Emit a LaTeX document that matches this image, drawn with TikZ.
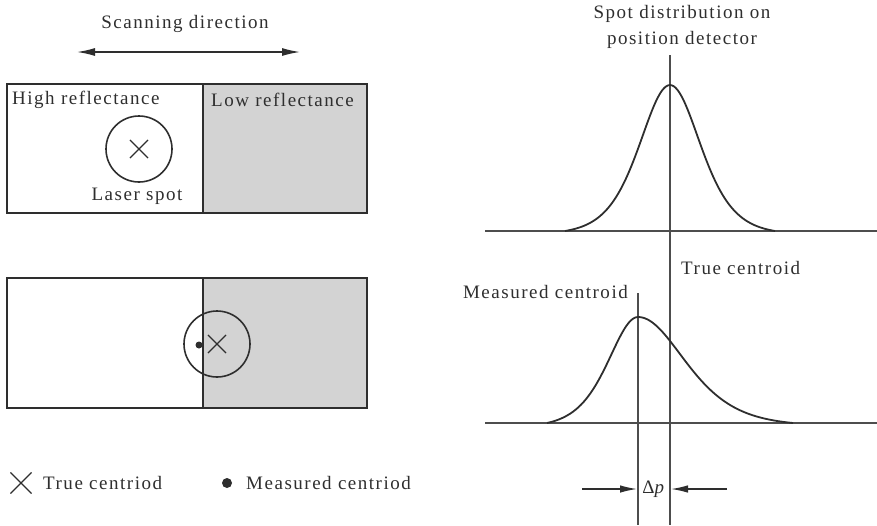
\documentclass[tikz,border=0pt]{standalone}
\usepackage{fontspec}
\setmainfont{Liberation Serif}[LetterSpace=8]
\usetikzlibrary{arrows.meta,shapes.misc}
\definecolor{ink}{HTML}{2E2E2E}
\definecolor{grayfill}{HTML}{D3D3D3}
\begin{document}
\begin{tikzpicture}[x=1pt,y=-1pt,
  declare function={sq(\u)=4/((exp(\u)+exp(-\u))^2);
                    prof(\x,\s,\e)=(sq(\x/\s)-sq(\e/\s))/(1-sq(\e/\s));},
  lbl/.style={font=\fontsize{19}{21}\selectfont, text=ink, inner sep=0pt},
  boxline/.style={draw=ink, line width=1.7pt},
  guide/.style={draw=ink!85, line width=1.3pt},
  curve/.style={draw=ink, line width=1.8pt},
  spot/.style={circle, draw=ink, line width=1.6pt, minimum size=66pt, inner sep=0pt},
  xmark/.style={cross out, draw=ink, line width=1.1pt, minimum size=#1, inner sep=0pt},
  xmark/.default=17pt,
  dotmark/.style={circle, fill=ink, minimum size=#1, inner sep=0pt},
  tip/.style={-{Latex[length=17pt,width=7.5pt]}, draw=ink, line width=1.3pt}
]
\useasboundingbox (0,0) rectangle (877,525);

% ---------- left: scanning direction ----------
\node[lbl] (scan) at (185,24) {Scanning direction};
\coordinate (sL) at (77,52);
\coordinate (sR) at (300,52);
\draw[line width=1.4pt, draw=ink, {Latex[length=18pt,width=8pt]}-{Latex[length=18pt,width=8pt]}] (sL) -- (sR);

% ---------- top box ----------
\fill[grayfill] (203,84) rectangle (367,213);
\draw[boxline] (7,84) rectangle (367,213);
\draw[boxline] (203,84) -- (203,213);
\node[lbl, anchor=west] (high) at (12,100) {High reflectance};
\node[lbl, anchor=west] (low) at (211,100) {Low reflectance};
\node[spot] (spot1) at (139,149) {};
\node[xmark] (x1) at (139,149) {};
\node[lbl] (laser) at (137,196) {Laser spot};

% ---------- bottom box ----------
\fill[grayfill] (203,278) rectangle (367,408);
\draw[boxline] (7,278) rectangle (367,408);
\draw[boxline] (203,278) -- (203,408);
\node[spot] (spot2) at (217,344) {};
\node[xmark] (x2) at (217,344) {};
\node[dotmark=7pt] (d2) at (199,345) {};

% ---------- legend ----------
\node[xmark=20pt] (lx) at (21,483) {};
\node[lbl, anchor=west] (ltrue) at (43,483) {True centriod};
\node[dotmark=10pt] (ld) at (227,483) {};
\node[lbl, anchor=west] (lmeas) at (246,483) {Measured centriod};

% ---------- right: distributions ----------
\node[lbl, align=center, font=\fontsize{19}{26}\selectfont] (title) at (682,27) {Spot distribution on\\position detector};
\coordinate (tTop) at (670,55);
\coordinate (tBot) at (670,525);
\coordinate (mTop) at (638,293);
\coordinate (mBot) at (638,525);
\draw[guide] (tTop) -- (tBot);
\draw[guide] (mTop) -- (mBot);
\coordinate (a1L) at (485,231);
\coordinate (a1R) at (877,231);
\coordinate (a2L) at (485,423);
\coordinate (a2R) at (877,423);
\draw[guide] (a1L) -- (a1R);
\draw[guide] (a2L) -- (a2R);

\draw[curve] plot[domain=-105:105, samples=121] ({670+\x},{231-146*prof(\x,41,105)});

\draw[curve] plot[domain=-91:0, samples=60] ({638+\x},{423-106*prof(\x,40,91)})
  -- plot[domain=0:155, samples=90] ({638+\x},{423-106*prof(\x,63,155)});

\node[lbl, anchor=west] (truelbl) at (681,268) {True centroid};
\node[lbl, anchor=east] (measlbl) at (628,292) {Measured centroid};

% ---------- delta p ----------
\coordinate (dL) at (582,489);
\coordinate (dLtip) at (637,489);
\coordinate (dR) at (727,489);
\coordinate (dRtip) at (671,489);
\draw[tip] (dL) -- (dLtip);
\draw[tip] (dR) -- (dRtip);
\node[lbl] (dp) at (654,489) {Δ\textit{p}};
\end{tikzpicture}
\end{document}
